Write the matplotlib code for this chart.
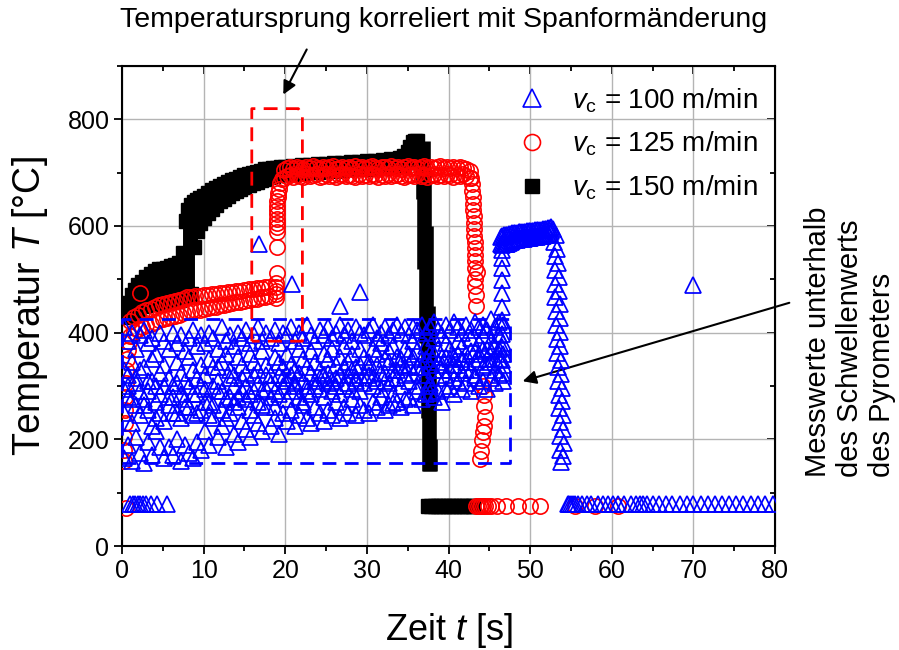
import matplotlib
matplotlib.use("Agg")
import matplotlib.pyplot as plt
from matplotlib.ticker import MultipleLocator
from matplotlib.lines import Line2D

plt.rcParams["font.family"] = ["Liberation Sans", "DejaVu Sans"]
plt.rcParams["mathtext.fontset"] = "custom"
plt.rcParams["mathtext.rm"] = "Liberation Sans"
plt.rcParams["mathtext.it"] = "Liberation Sans:italic"

BLUE = "#0000FF"
RED = "#FF0000"

# ---- v_c = 150 m/min (black band: lower / upper edge of the dense square cloud)
black_t = [0.9, 1.2, 1.6, 2.0, 2.5, 3.0, 3.5, 4.0, 4.5, 5.0,
           5.5, 6.0, 6.5, 7.0, 7.5, 7.8, 8.1, 8.5, 8.8, 9.2,
           9.6, 10.0, 10.5, 11.0, 11.5, 12.0, 12.5, 13.0, 13.5, 14.0,
           14.5, 15.0, 15.5, 16.0, 16.5, 17.0, 17.5, 18.0, 18.5, 19.0,
           19.5, 20.0, 21.0, 22.0, 23.0, 24.0, 25.0, 26.0, 27.0, 28.0,
           29.0, 30.0, 31.0, 32.0, 33.0, 34.0, 34.5, 35.0, 35.3, 35.6,
           35.9, 36.2]
black_hi = [455, 470, 480, 490, 495, 505, 510, 515, 520, 520,
            522, 525, 527, 530, 550, 610, 630, 640, 645, 648,
            652, 657, 662, 667, 671, 675, 679, 683, 686, 689,
            692, 695, 698, 700, 702, 704, 706, 707, 708, 709,
            710, 711, 712, 714, 715, 716, 717, 718, 719, 720,
            720, 721, 722, 723, 725, 728, 732, 738, 748, 758,
            760, 760]
black_lo = [430, 435, 440, 445, 450, 452, 454, 455, 456, 457,
            458, 459, 460, 462, 465, 468, 470, 472, 560, 590,
            605, 615, 625, 632, 640, 646, 651, 656, 661, 665,
            669, 673, 677, 680, 683, 686, 689, 692, 694, 696,
            698, 698, 698, 700, 701, 702, 703, 704, 705, 706,
            706, 707, 708, 709, 710, 712, 715, 720, 725, 730,
            735, 735]
# the fall of the 150 m/min curve after the tool leaves the workpiece
black_drop_t = [36.85, 37.05, 37.25, 37.45, 37.65, 37.75]
black_drop_hi = [760, 700, 600, 450, 320, 200]
black_drop_lo = [650, 520, 380, 240, 140, 140]
black_floor_t = [37.5, 37.9, 38.3, 38.7, 39.1, 39.5, 39.9, 40.3, 40.7, 41.1,
                 41.5, 41.9, 42.3, 42.7, 43.0]
black_floor_T = [75, 75, 75, 75, 75, 75, 75, 75, 75, 75,
                 75, 75, 75, 75, 75]

# ---- v_c = 125 m/min (red)
red_early_t = [1.0, 1.5, 2.0, 2.5, 3.0, 3.5, 4.0, 4.5, 5.0, 5.5,
               6.0, 6.5, 7.0, 7.5, 8.0, 8.5, 9.0, 9.5, 10.0, 10.5,
               11.0, 11.5, 12.0, 12.5, 13.0, 13.5, 14.0, 14.5, 15.0, 15.5,
               16.0, 16.5, 17.0, 17.5, 18.0]
red_early_lo = [394, 401, 406, 410, 414, 417, 420, 423, 426, 428,
                430, 432, 434, 436, 438, 440, 442, 443, 445, 446,
                448, 449, 451, 452, 454, 455, 457, 458, 460, 461,
                463, 464, 466, 467, 469]
red_early_hi = [422, 429, 434, 438, 442, 445, 448, 451, 454, 456,
                458, 460, 462, 464, 466, 467, 468, 469, 470, 471,
                472, 473, 474, 475, 476, 477, 478, 479, 480, 481,
                482, 483, 484, 485, 486]
red_plateau_t = [19.8, 20.2, 20.6, 21.0, 21.4, 21.8, 22.2, 22.6, 23.0, 23.4,
                 23.8, 24.2, 24.6, 25.0, 25.4, 25.8, 26.2, 26.6, 27.0, 27.4,
                 27.8, 28.2, 28.6, 29.0, 29.4, 29.8, 30.2, 30.6, 31.0, 31.4,
                 31.8, 32.2, 32.6, 33.0, 33.4, 33.8, 34.2, 34.6, 35.0, 35.4,
                 35.8, 36.2, 36.6, 37.0, 37.4, 37.8, 38.2, 38.6, 39.0, 39.4,
                 39.8, 40.2, 40.6, 41.0, 41.4, 41.8, 42.2, 42.6]
red_plateau_lo = [690, 693, 695, 692, 696, 694, 691, 697, 693, 695,
                  698, 692, 694, 697, 693, 696, 692, 695, 698, 693,
                  696, 694, 691, 697, 694, 696, 693, 698, 695, 692,
                  696, 694, 697, 693, 695, 698, 694, 692, 696, 695,
                  693, 697, 694, 696, 692, 695, 698, 693, 696, 694,
                  697, 695, 692, 696, 694, 697, 693, 690]
red_plateau_hi = [705, 708, 710, 707, 711, 709, 706, 710, 708, 712,
                  709, 707, 711, 708, 710, 712, 707, 709, 711, 708,
                  710, 707, 712, 709, 711, 708, 710, 712, 709, 707,
                  711, 710, 708, 712, 709, 711, 707, 710, 712, 709,
                  711, 708, 710, 712, 709, 711, 708, 710, 712, 709,
                  711, 708, 710, 709, 711, 708, 706, 704]
red_start_t = [0.5, 0.25, 0.3, 0.3, 0.35, 0.4, 0.4, 0.45, 0.5, 0.6, 0.7, 0.8, 2.2]
red_start_T = [72, 160, 180, 205, 230, 255, 280, 305, 330, 350, 368, 382, 475]
red_jump_t = [18.9, 18.9, 18.9, 18.9, 18.9, 19.0, 19.0, 19.0, 19.0, 19.0,
              19.0, 19.0, 19.0, 19.0, 19.0, 19.1, 19.1, 19.2, 19.4, 19.6]
red_jump_T = [465, 472, 479, 486, 493, 512, 560, 588, 598, 606,
              614, 622, 630, 638, 646, 654, 662, 670, 680, 688]
red_drop_t = [42.8, 42.9, 42.9, 43.0, 43.0, 43.0, 43.1, 43.1, 43.1, 43.1,
              43.2, 43.2, 43.2, 43.5, 43.2, 43.3, 43.3, 43.3, 43.4, 43.4,
              44.2, 44.3, 44.4, 44.5, 44.3, 44.2, 44.1, 44.0, 43.9]
red_drop_T = [690, 678, 666, 654, 642, 630, 618, 606, 594, 582,
              570, 558, 546, 514, 534, 522, 500, 488, 470, 450,
              300, 283, 262, 241, 225, 214, 198, 179, 163]
red_floor_t = [43.4, 43.6, 43.8, 44.0, 44.2, 44.5, 44.8, 45.2, 45.9, 47.1,
               48.5, 50.0, 51.2, 55.5, 58.0, 60.8]
red_floor_T = [75, 75, 75, 75, 75, 75, 75, 75, 75, 75,
               75, 75, 75, 75, 75, 75]

# ---- v_c = 100 m/min (blue)
blue_t = [0.2, 0.7, 1.2, 1.7, 2.2, 2.7, 3.2, 3.7, 4.2, 4.7,
          5.2, 5.7, 6.2, 6.7, 7.2, 7.7, 8.2, 8.7, 9.2, 9.7,
          10.2, 10.7, 11.2, 11.7, 12.2, 12.7, 13.2, 13.7, 14.2, 14.7,
          15.2, 15.7, 16.2, 16.7, 17.2, 17.7, 18.2, 18.7, 19.2, 19.7,
          20.2, 20.7, 21.2, 21.7, 22.2, 22.7, 23.2, 23.7, 24.2, 24.7,
          25.2, 25.7, 26.2, 26.7, 27.2, 27.7, 28.2, 28.7, 29.2, 29.7,
          30.2, 30.7, 31.2, 31.7, 32.2, 32.7, 33.2, 33.7, 34.2, 34.7,
          35.2, 35.7, 36.2, 36.7, 37.2, 37.7, 38.2, 38.7, 39.2, 39.7,
          40.2, 40.7, 41.2, 41.7, 42.2, 42.7, 43.2, 43.7, 44.2, 44.7,
          45.2, 45.7, 46.2, 46.7]
blue_a = [410, 385, 400, 370, 395, 405, 380, 390, 360, 400,
          385, 370, 400, 380, 395, 365, 390, 405, 375, 395,
          380, 400, 390, 370, 410, 385, 395, 375, 400, 390,
          405, 380, 395, 410, 385, 400, 390, 405, 380, 400,
          395, 410, 385, 400, 390, 415, 395, 385, 405, 395,
          410, 390, 400, 415, 395, 405, 385, 410, 400, 395,
          405, 415, 390, 400, 410, 395, 405, 415, 400, 410,
          395, 410, 405, 415, 400, 410, 420, 405, 395, 415,
          405, 420, 410, 400, 415, 405, 420, 410, 415, 405,
          425, 410, 420, 415]
blue_b = [330, 300, 345, 315, 290, 335, 310, 350, 300, 325,
          340, 315, 300, 345, 325, 310, 355, 330, 315, 340,
          320, 350, 335, 310, 345, 360, 330, 320, 355, 340,
          325, 360, 345, 330, 365, 340, 320, 355, 345, 335,
          360, 340, 330, 370, 350, 335, 365, 345, 330, 360,
          350, 370, 340, 355, 375, 345, 360, 335, 370, 355,
          345, 370, 360, 380, 350, 365, 375, 355, 340, 370,
          360, 385, 365, 350, 375, 360, 390, 370, 355, 380,
          370, 355, 385, 375, 360, 390, 365, 380, 395, 370,
          385, 375, 395, 380]
blue_e = [295, 320, 275, 305, 330, 265, 290, 310, 240, 285,
          300, 280, 250, 305, 285, 260, 300, 285, 250, 300,
          295, 270, 300, 335, 290, 275, 315, 300, 280, 315,
          300, 285, 320, 305, 290, 320, 305, 290, 320, 315,
          310, 320, 300, 325, 310, 290, 325, 300, 315, 320,
          325, 310, 300, 320, 335, 305, 330, 315, 340, 320,
          335, 315, 340, 325, 310, 345, 330, 315, 350, 335,
          340, 355, 335, 320, 350, 340, 360, 345, 330, 355,
          350, 340, 360, 350, 330, 365, 345, 360, 370, 350,
          365, 350, 370, 360]
blue_c = [250, 280, 230, 265, 245, 275, 255, 225, 270, 250,
          235, 265, 280, 250, 240, 275, 260, 245, 285, 255,
          270, 245, 265, 290, 255, 240, 280, 270, 260, 290,
          275, 255, 290, 270, 265, 295, 280, 260, 285, 300,
          275, 290, 305, 280, 270, 300, 285, 310, 295, 280,
          305, 290, 315, 285, 300, 320, 295, 310, 290, 305,
          320, 300, 310, 295, 325, 305, 315, 330, 300, 320,
          310, 325, 300, 335, 320, 305, 330, 315, 340, 320,
          330, 315, 340, 325, 345, 330, 320, 350, 335, 340,
          345, 330, 350, 340]
blue_d = [165, 190, 160, 205, 175, 155, 195, 170, 215, 185,
          165, 185, 170, 200, 160, 190, 175, 165, 195, 180,
          215, 190, 240, 205, 225, 185, 250, 210, 195, 235,
          220, 205, 245, 230, 215, 260, 225, 240, 210, 250,
          235, 255, 225, 245, 265, 240, 230, 260, 250, 235,
          255, 245, 270, 240, 260, 250, 275, 245, 265, 255,
          250, 270, 260, 280, 255, 265, 285, 270, 260, 275,
          280, 265, 290, 275, 285, 300, 280, 290, 270, 295,
          300, 285, 310, 295, 305, 290, 315, 300, 310, 295,
          315, 305, 320, 310]
blue_out_t = [16.8, 20.8, 26.7, 29.2, 70.0, 33.2, 37.7]
blue_out_T = [567, 492, 450, 476, 490, 268, 286]
blue_rise_t = [46.5, 46.6, 46.5, 46.6, 46.5, 46.6, 46.5, 46.6, 46.5, 46.6, 46.5]
blue_rise_T = [325, 348, 373, 398, 423, 448, 474, 498, 522, 540, 555]
blue_plateau_t = [46.4, 46.6, 46.8, 47.0, 47.2, 47.4, 47.6, 47.8, 48.0, 48.2,
                  48.4, 48.6, 48.8, 49.0, 49.2, 49.4, 49.6, 49.8, 50.0, 50.2,
                  50.4, 50.6, 50.8, 51.0, 51.2, 51.4, 51.6, 51.8, 52.0, 52.2,
                  52.4, 52.6]
blue_plateau_lo = [566, 565, 566, 567, 566, 568, 570, 572, 573, 574,
                   574, 575, 575, 576, 576, 577, 577, 578, 578, 579,
                   579, 580, 580, 581, 581, 582, 582, 583, 584, 585,
                   587, 590]
blue_plateau_hi = [580, 582, 583, 584, 584, 585, 585, 586, 586, 587,
                   587, 588, 588, 588, 589, 589, 590, 590, 590, 591,
                   591, 592, 592, 592, 593, 593, 594, 594, 595, 596,
                   597, 598]
blue_drop_t = [52.8, 53.2, 52.9, 53.3, 53.0, 53.4, 53.0, 53.5, 53.1, 53.5,
               53.1, 53.6, 53.2, 53.6, 53.2, 53.7, 53.3, 53.7, 53.3, 53.8,
               53.4, 53.8, 53.4, 53.9, 53.5, 53.9, 53.5, 54.0, 53.6, 54.0,
               53.6, 54.1, 53.7, 54.0, 53.8]
blue_drop_T = [595, 583, 570, 557, 544, 531, 518, 505, 492, 479,
               466, 453, 440, 427, 414, 401, 388, 375, 362, 349,
               336, 323, 310, 297, 284, 271, 258, 245, 232, 219,
               206, 193, 180, 168, 158]
blue_floor_t = [1.0, 1.3, 1.6, 1.9, 2.2, 2.6, 3.0, 3.6, 4.3, 5.5,
                54.6, 54.8, 55.0, 55.2, 55.5, 55.9, 56.4, 57.0, 57.5, 58.3,
                58.9, 59.5, 60.2, 60.8, 61.5, 62.3, 63.0, 63.4, 63.8, 64.3,
                65.1, 65.8, 66.6, 67.4, 68.3, 69.2, 70.0, 70.9, 71.8, 72.6,
                73.5, 74.4, 75.2, 76.1, 77.0, 77.9, 78.8, 79.7]
blue_floor_T = [78, 78, 78, 78, 78, 78, 78, 78, 78, 78,
                78, 78, 78, 78, 78, 78, 78, 78, 78, 78,
                78, 78, 78, 78, 78, 78, 78, 78, 78, 78,
                78, 78, 78, 78, 78, 78, 78, 78, 78, 78,
                78, 78, 78, 78, 78, 78, 78, 78]

labels = [r"$v_\mathrm{c}$ = 100 m/min", r"$v_\mathrm{c}$ = 125 m/min",
          r"$v_\mathrm{c}$ = 150 m/min"]

fig = plt.figure(figsize=(8.99, 6.5), dpi=100)
ax = fig.add_axes([0.1357, 0.16, 0.7264, 0.7385])

# black (150 m/min)
sq = dict(marker="s", color="k", ms=9.5, ls="none", zorder=2)
ax.vlines(black_t, black_lo, black_hi, colors="k", lw=5, zorder=2)
ax.vlines(black_drop_t, black_drop_lo, black_drop_hi, colors="k", lw=10.5, zorder=2)
ax.plot(black_t, black_lo, **sq)
ax.plot(black_t, black_hi, **sq)
ax.plot(black_floor_t, black_floor_T, **sq)

# red (125 m/min)
ci = dict(marker="o", mfc="none", mec=RED, mew=1.2, ms=11, ls="none", zorder=3)
for tt, yy in [(red_early_t, red_early_lo), (red_early_t, red_early_hi),
               (red_plateau_t, red_plateau_lo), (red_plateau_t, red_plateau_hi),
               (red_start_t, red_start_T), (red_jump_t, red_jump_T),
               (red_drop_t, red_drop_T), (red_floor_t, red_floor_T)]:
    ax.plot(tt, yy, **ci)

# blue (100 m/min)
tr = dict(marker="^", mfc="none", mec=BLUE, mew=1.25, ms=11.5, ls="none", zorder=4)
for yy in [blue_a, blue_b, blue_e, blue_c, blue_d]:
    ax.plot(blue_t, yy, **tr)
for tt, yy in [(blue_out_t, blue_out_T), (blue_rise_t, blue_rise_T),
               (blue_plateau_t, blue_plateau_lo), (blue_plateau_t, blue_plateau_hi),
               (blue_drop_t, blue_drop_T), (blue_floor_t, blue_floor_T)]:
    ax.plot(tt, yy, **tr)

# dashed marking boxes
ax.plot([0, 47.5, 47.5, 0, 0], [155, 155, 425, 425, 155], color=BLUE, lw=2,
        dashes=(5, 3), zorder=6, clip_on=False)
ax.plot([15.9, 15.9, 21.6, 22.1, 22.1, 15.9], [384, 820, 820, 808, 384, 384],
        color=RED, lw=2, dashes=(5, 3), zorder=6)

ax.set_xlim(0, 80)
ax.set_ylim(0, 900)
ax.xaxis.set_major_locator(MultipleLocator(10))
ax.xaxis.set_minor_locator(MultipleLocator(5))
ax.yaxis.set_major_locator(MultipleLocator(200))
ax.yaxis.set_minor_locator(MultipleLocator(100))
ax.grid(True, which="major", color="#b4b4b4", lw=1)
ax.set_axisbelow(True)
ax.tick_params(which="both", direction="out", labelsize=18, width=1.3, pad=3)
ax.tick_params(which="major", length=6)
ax.tick_params(which="minor", length=3.5)
for s in ax.spines.values():
    s.set_linewidth(1.5)

top = ax.secondary_xaxis("top")
top.xaxis.set_major_locator(MultipleLocator(10))
top.xaxis.set_minor_locator(MultipleLocator(5))
top.tick_params(which="both", direction="in", labeltop=False, width=1.3)
top.tick_params(which="major", length=6)
top.tick_params(which="minor", length=3.5)
right = ax.secondary_yaxis("right")
right.yaxis.set_major_locator(MultipleLocator(200))
right.yaxis.set_minor_locator(MultipleLocator(100))
right.tick_params(which="both", direction="in", labelright=False, width=1.3)
right.tick_params(which="major", length=6)
right.tick_params(which="minor", length=3.5)

ax.set_xlabel("Zeit $t$ [s]", fontsize=26)
ax.set_ylabel("Temperatur $T$ [°C]", fontsize=27)
ax.xaxis.set_label_coords(0.5, -0.135)
ax.yaxis.set_label_coords(-0.11, 0.5)

handles = [Line2D([], [], marker="^", mfc="none", mec=BLUE, mew=1.2, ms=12.5, ls="none"),
           Line2D([], [], marker="o", mfc="none", mec=RED, mew=1.2, ms=11.5, ls="none"),
           Line2D([], [], marker="s", color="k", ms=10, ls="none")]
ax.legend(handles, labels, loc="upper left", bbox_to_anchor=(0.606, 0.958),
          frameon=False, fontsize=20, handlelength=1.0, handletextpad=0.95,
          labelspacing=0.55, borderpad=0, borderaxespad=0)

fig.text(444 / 899, 1 - 20 / 650, "Temperatursprung korreliert mit Spanformänderung",
         ha="center", va="center", fontsize=20.5)
ax.annotate("", xy=(282, 650 - 97), xytext=(308, 650 - 47),
            xycoords="figure pixels", textcoords="figure pixels",
            arrowprops=dict(arrowstyle="-|>", color="k", lw=1.5, mutation_scale=20))
fig.text(850 / 899, 1 - 477 / 650,
         "Messwerte unterhalb\ndes Schwellenwerts\ndes Pyrometers",
         rotation=90, ha="center", va="bottom", multialignment="left",
         fontsize=21, linespacing=1.2)
ax.annotate("", xy=(520, 650 - 382), xytext=(792, 650 - 302),
            xycoords="figure pixels", textcoords="figure pixels",
            arrowprops=dict(arrowstyle="-|>", color="k", lw=1.5, mutation_scale=20))

fig.savefig("out.png", dpi=100)
